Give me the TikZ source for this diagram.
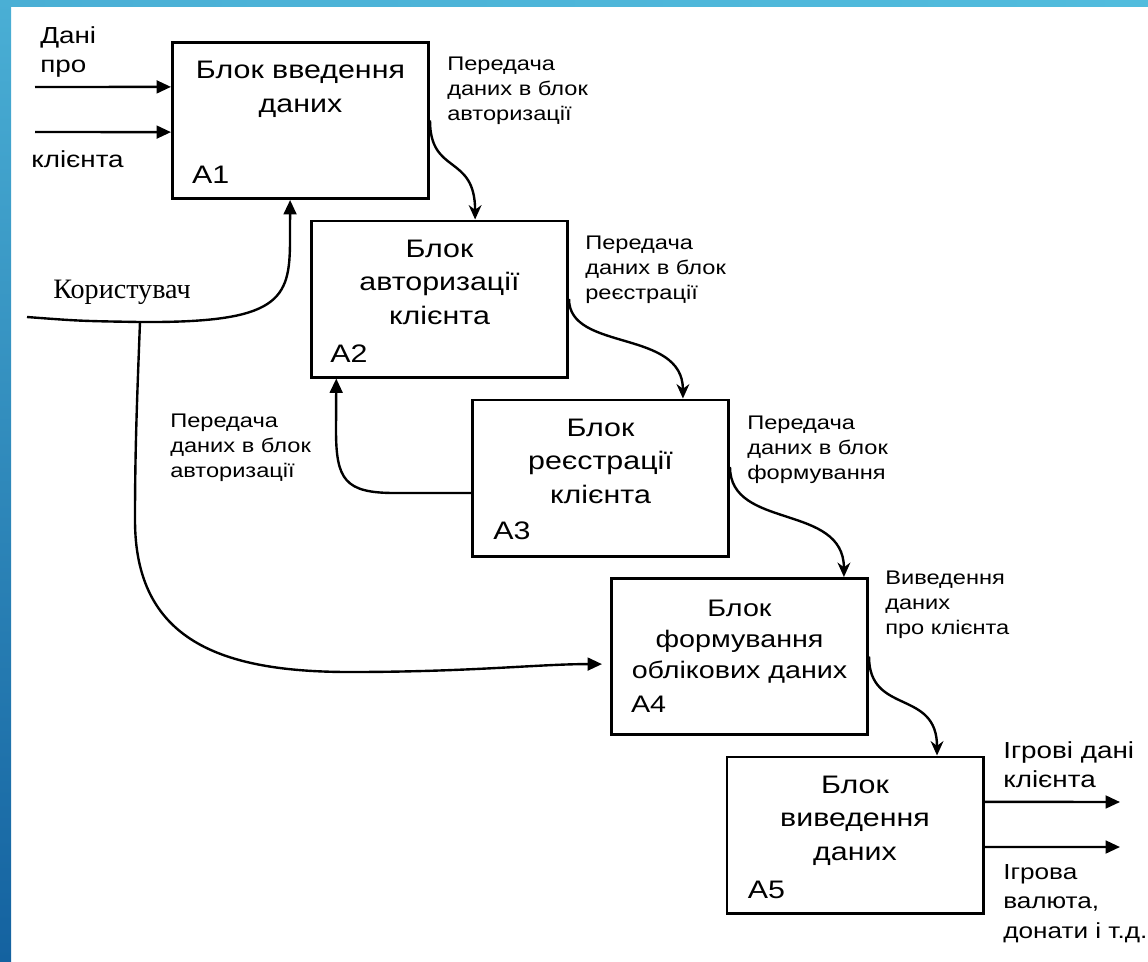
\documentclass[tikz,border=0pt]{standalone}
\usepackage{fontspec}
\setmainfont{Liberation Sans}[FakeStretch=1.2]
\newfontfamily\userfont{Liberation Serif}
\usetikzlibrary{arrows.meta}
\definecolor{slidelight}{HTML}{4AAFD5}
\definecolor{slidetopright}{HTML}{51BCDD}
\definecolor{slidedark}{HTML}{1462A0}

\begin{document}
\begin{tikzpicture}[x=0.025cm, y=-0.025cm,
    blok/.style={draw, line width=2.1pt, minimum width=6.4cm, minimum height=3.9cm, inner sep=0pt},
    blokname/.style={anchor=north, align=center, inner sep=0pt, font=\fontsize{18}{24}\selectfont},
    bloknr/.style={anchor=base west, inner sep=0pt, font=\fontsize{18}{24}\selectfont},
    potik/.style={anchor=north west, align=left, inner sep=0pt, font=\fontsize{14}{17.8}\selectfont},
    zovn/.style={anchor=north west, align=left, inner sep=0pt, font=\fontsize{16.5}{21}\selectfont},
    strilka/.style={line width=1.7pt, -{Triangle[length=0.36cm, width=0.32cm]}},
    vniz/.style={line width=1.7pt, -{Stealth[length=0.36cm, width=0.32cm]}}]
    \useasboundingbox (0,0) rectangle (1148,961);

    % Rahmen
    \shade[top color=slidelight, bottom color=slidedark] (0,0) rectangle (11,961);
    \shade[left color=slidelight, right color=slidetopright] (0,0) rectangle (1148,6);

    % Blok A1
    \node[blok] (a1) at (300.5,120.5) {};
    \node[blokname] (a1name) at ([yshift=-0.5cm]a1.north) {Блок введення\\даних};
    \node[bloknr] (a1nr) at ([xshift=0.52cm,yshift=0.4cm]a1.south west) {A1};

    % Blok A2
    \node[blok] (a2) at (439.5,299) {};
    \node[blokname] (a2name) at ([yshift=-0.5cm]a2.north) {Блок\\авторизації\\клієнта};
    \node[bloknr] (a2nr) at ([xshift=0.5cm,yshift=0.4cm]a2.south west) {A2};

    % Blok A3
    \node[blok] (a3) at (600.5,478) {};
    \node[blokname] (a3name) at ([yshift=-0.5cm]a3.north) {Блок\\реєстрації\\клієнта};
    \node[bloknr] (a3nr) at ([xshift=0.55cm,yshift=0.45cm]a3.south west) {A3};

    % Blok A4
    \node[blok] (a4) at (739.5,656.5) {};
    \node[blokname, font=\fontsize{17}{22}\selectfont] (a4name) at ([yshift=-0.56cm]a4.north) {Блок\\формування\\облікових даних};
    \node[bloknr, font=\fontsize{17}{22}\selectfont] (a4nr) at ([xshift=0.52cm,yshift=0.6cm]a4.south west) {A4};

    % Blok A5
    \node[blok] (a5) at (855,835) {};
    \node[blokname] (a5name) at ([yshift=-0.5cm]a5.north) {Блок\\виведення\\даних};
    \node[bloknr] (a5nr) at ([xshift=0.55cm,yshift=0.4cm]a5.south west) {A5};

    % Eingaenge
    \coordinate (in1) at (35,87);
    \coordinate (in2) at (35,132);
    \draw[strilka] (in1) -- ([yshift=0.84cm]a1.west);
    \draw[strilka] (in2) -- ([yshift=-0.29cm]a1.west);
    \node[zovn] (dani) at (40,26) {Дані\\про};
    \node[zovn, anchor=base west] (klienta) at (31,167) {клієнта};

    % Koristuvach
    \coordinate (user) at (27,317);
    \coordinate (userfork) at (140,322);
    \node[font=\userfont\fontsize{20}{24}\selectfont, anchor=base west, inner sep=0pt] (userlabel) at (53,298) {Користувач};
    \draw[line width=1.7pt] (user) .. controls (80,321) .. (userfork);
    \draw[strilka] (userfork) .. controls (280,323) and (290,300) .. (290,240) -- ([xshift=-0.26cm]a1.south);
    \draw[strilka, shorten >=0.2cm] (userfork) .. controls (137,400) and (135,450) .. (135,520)
        .. controls (135,640) and (220,672) .. (350,672)
        .. controls (470,672) and (540,664) .. ([yshift=-0.19cm]a4.west);

    % Verbindungen
    \draw[vniz] (a1.east) .. controls +(0,55) and +(0,-66) .. ([xshift=0.89cm]a2.north);
    \draw[vniz] (a2.east) .. controls +(0,53) and +(0,-70) .. ([xshift=2.06cm]a3.north);
    \draw[vniz] ([yshift=0.275cm]a3.east) .. controls +(0,63) and +(0,-74) .. ([xshift=2.61cm]a4.north);
    \draw[vniz] (a4.east) .. controls +(0,59) and +(0,-67) .. ([xshift=2.05cm]a5.north);
    \draw[strilka] ([yshift=-0.375cm]a3.west) -- (395,493) .. controls (345,493) and (336,480) .. (336,430) -- ([xshift=-2.58cm]a2.south);

    \node[potik] (p12) at (447,57) {Передача\\даних в блок\\авторизації};
    \node[potik] (p23) at (585,236) {Передача\\даних в блок\\реєстрації};
    \node[potik] (p34) at (747,416) {Передача\\даних в блок\\формування};
    \node[potik] (p45) at (885,571) {Виведення\\даних\\про клієнта};
    \node[potik] (p32) at (170,414) {Передача\\даних в блок\\авторизації};

    % Ausgaenge
    \coordinate (out1) at (1120,802);
    \coordinate (out2) at (1120,847);
    \draw[strilka] ([yshift=0.83cm]a5.east) -- (out1);
    \draw[strilka] ([yshift=-0.3cm]a5.east) -- (out2);
    \node[zovn] (out1label) at (1003,741) {Ігрові дані\\клієнта};
    \node[zovn, font=\fontsize{15.5}{21}\selectfont] (out2label) at (1003,864) {Ігрова\\валюта,\\донати і~т.д.};
\end{tikzpicture}
\end{document}
